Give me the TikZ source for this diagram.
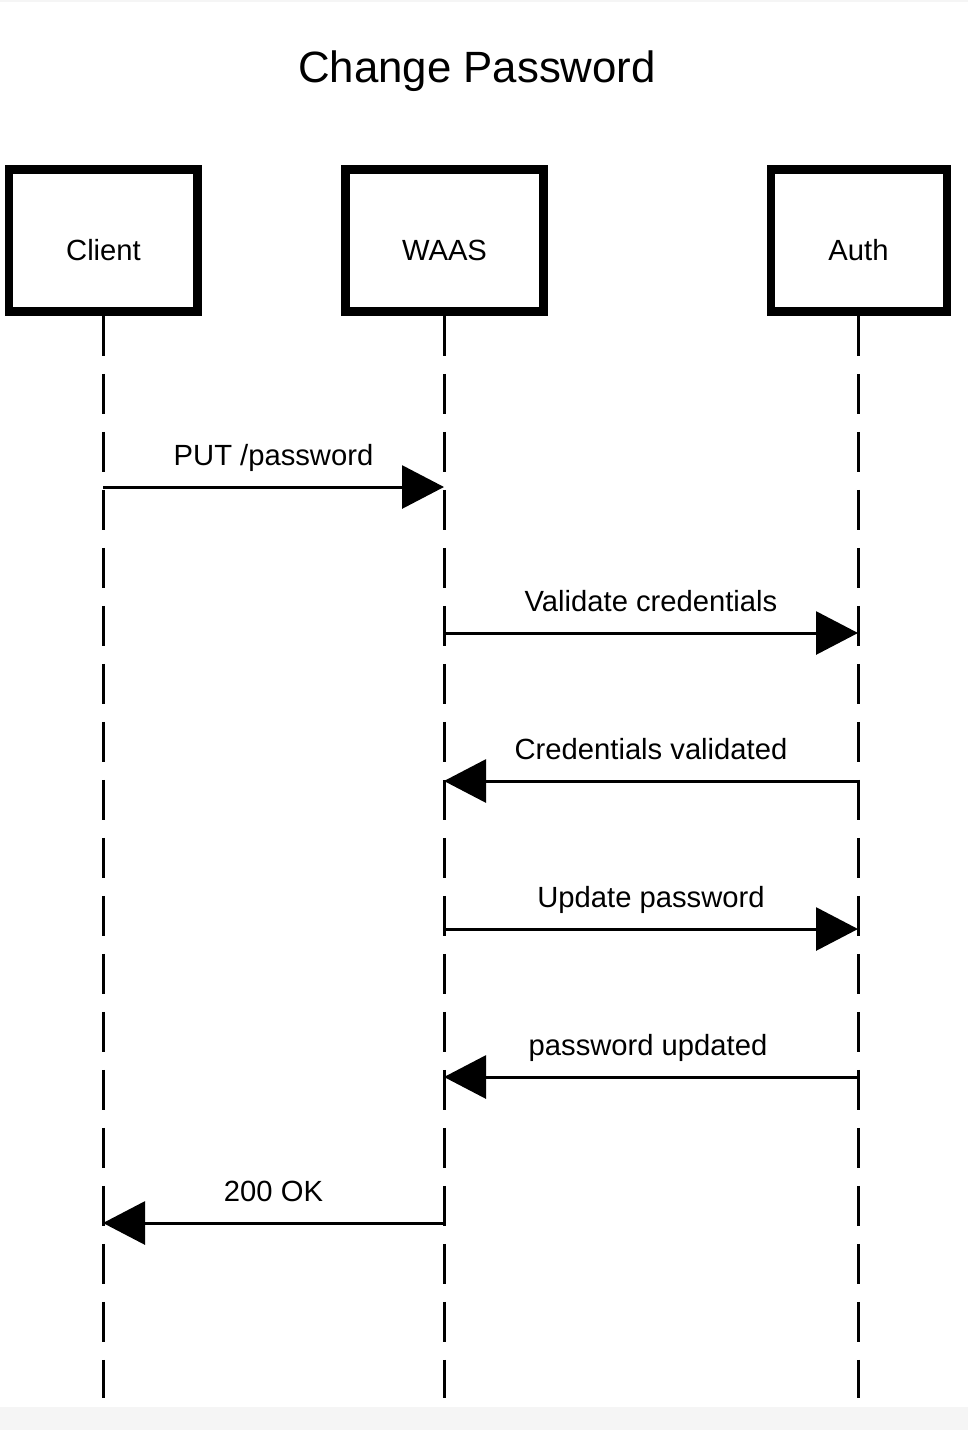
\documentclass[tikz,border=0pt]{standalone}
\usepackage{fontspec}
\setmainfont{Liberation Sans}
\usetikzlibrary{arrows.meta}
\definecolor{stripgray}{RGB}{245,245,245}
\begin{document}
\begin{tikzpicture}[x=0.5pt,y=-0.5pt,
  actor/.style={draw=black, line width=4.25pt, fill=white, inner sep=0pt, minimum height=71pt},
  actorlbl/.style={anchor=base, inner sep=0pt, font=\fontsize{14.6}{17}\selectfont},
  lifeline/.style={line width=1.5pt, dash pattern=on 20pt off 9pt},
  msg/.style={line width=1.5pt, -{Triangle[length=21pt,width=21.5pt]}},
  msglbl/.style={anchor=base, inner sep=0pt, font=\fontsize{14.6}{17}\selectfont}]
\useasboundingbox (0,0) rectangle (968,1430);
\fill[white] (0,0) rectangle (968,1430);
\fill[stripgray] (0,0) rectangle (968,2);
\fill[stripgray] (0,1407) rectangle (968,1430);

\node[anchor=base, inner sep=0pt, font=\fontsize{21.9}{26}\selectfont] (title) at (477,82) {Change Password};

% actor boxes
\node[actor, minimum width=94.25pt] (client) at (103.25,240.5) {};
\node[actor, minimum width=99pt] (waas) at (444.5,240.5) {};
\node[actor, minimum width=88pt] (auth) at (859,240.5) {};
\node[actorlbl] (clientlbl) at (103.5,260) {Client};
\node[actorlbl] (waaslbl) at (444.5,260) {WAAS};
\node[actorlbl] (authlbl) at (858.5,260) {Auth};

% lifeline ends
\coordinate (cend) at (103,1398);
\coordinate (wend) at (444,1398);
\coordinate (aend) at (858,1398);
\draw[lifeline] (client.south -| cend) -- (cend);
\draw[lifeline] (waas.south -| wend) -- (wend);
\draw[lifeline] (auth.south -| aend) -- (aend);

% message points
\coordinate (c1) at (103,487);  \coordinate (w1) at (444,487);
\coordinate (w2) at (444,633);  \coordinate (a2) at (858,633);
\coordinate (a3) at (858,781);  \coordinate (w3) at (444,781);
\coordinate (w4) at (444,929);  \coordinate (a4) at (858,929);
\coordinate (a5) at (858,1077); \coordinate (w5) at (444,1077);
\coordinate (w6) at (444,1223); \coordinate (c6) at (103,1223);

\draw[msg] (c1) -- (w1);
\draw[msg] (w2) -- (a2);
\draw[msg] (a3) -- (w3);
\draw[msg] (w4) -- (a4);
\draw[msg] (a5) -- (w5);
\draw[msg] (w6) -- (c6);

\node[msglbl] (l1) at (273.5,465) {PUT /password};
\node[msglbl] (l2) at (651,611) {Validate credentials};
\node[msglbl] (l3) at (651,759) {Credentials validated};
\node[msglbl] (l4) at (651,907) {Update password};
\node[msglbl] (l5) at (648,1055) {password updated};
\node[msglbl] (l6) at (273.5,1201) {200 OK};
\end{tikzpicture}
\end{document}
